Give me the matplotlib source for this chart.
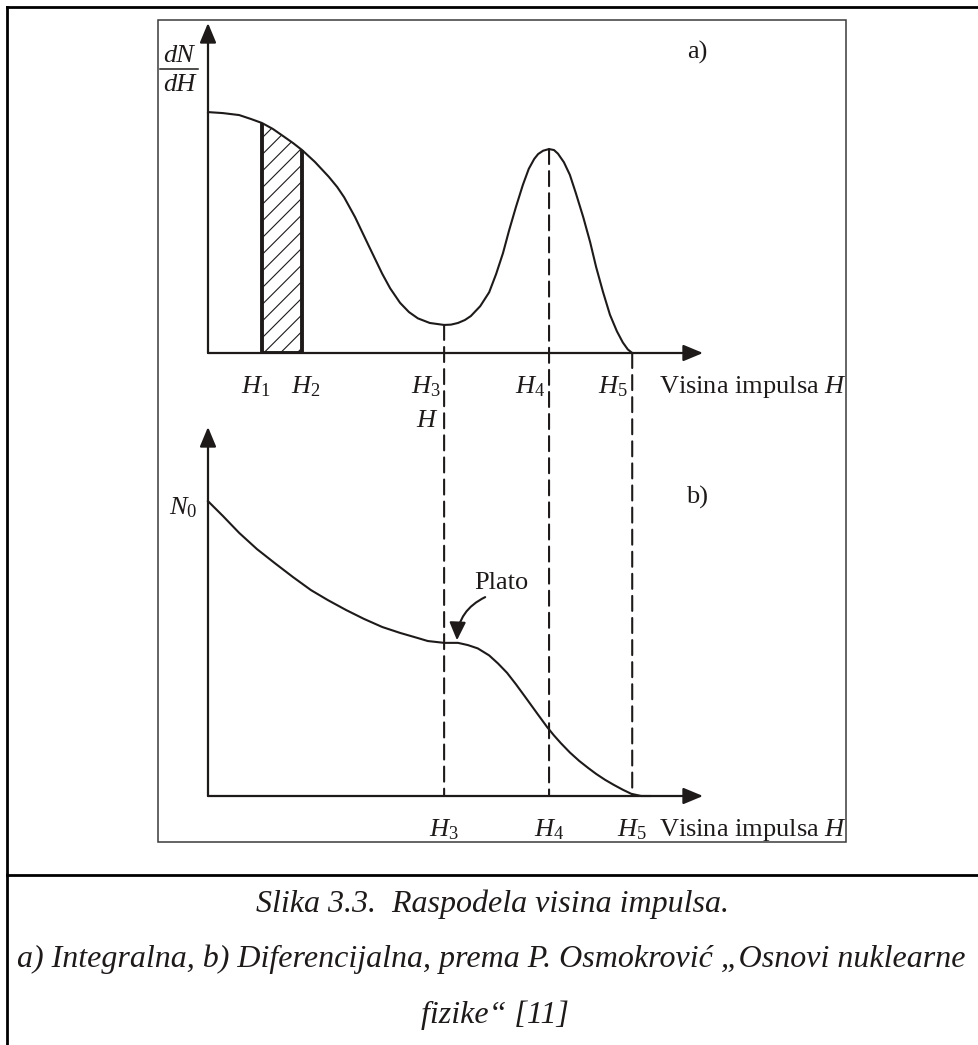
import numpy as np
import matplotlib.pyplot as plt
from matplotlib.patches import FancyArrowPatch, ConnectionPatch, Rectangle
from matplotlib.lines import Line2D

plt.rcParams['font.family'] = ['Liberation Serif', 'DejaVu Serif']
plt.rcParams['mathtext.fontset'] = 'custom'
plt.rcParams['mathtext.rm'] = 'Liberation Serif'
plt.rcParams['mathtext.it'] = 'Liberation Serif:italic'
plt.rcParams['hatch.linewidth'] = 0.8

ink = '#1e1a1a'

# pulse height positions H1..H5 (both panels share the x scale)
H_labels = ['$H_1$', '$H_2$', '$H_3$', '$H_4$', '$H_5$']
H_pos = [10.9, 19.0, 47.7, 68.9, 85.7]

# a) dN/dH spectrum
a_x = [0, 3.0, 6.3, 8.7, 10.9, 13.1, 15.4, 17.2, 19.0, 21.6, 24.4, 26.1, 27.5,
       29.7, 31.1, 32.5, 35.2, 36.8, 38.8, 40.6, 42.4, 44.8, 47.7, 49.1, 50.5,
       51.9, 53.1, 55.0, 56.8, 58.2, 59.6, 60.8, 62.2, 63.6, 64.8, 65.9, 66.7,
       67.7, 68.9, 69.9, 70.7, 71.9, 73.1, 74.3, 75.8, 77.2, 78.4, 79.8, 81.2,
       82.6, 83.8, 84.8, 85.7]
a_y = [73.0, 72.7, 72.1, 70.9, 69.7, 67.9, 65.5, 63.6, 61.5, 57.9, 53.4, 50.3, 47.2,
       41.2, 36.8, 32.4, 24.0, 19.6, 15.2, 12.4, 10.5, 9.1, 8.5, 8.6, 9.1,
       10.0, 11.2, 14.2, 18.4, 23.9, 30.3, 37.0, 44.2, 50.9, 55.8, 58.8, 60.3,
       61.3, 61.8, 61.5, 60.4, 57.8, 54.0, 48.5, 41.2, 33.6, 26.1, 18.5, 11.6,
       6.6, 3.2, 1.1, 0.0]

# b) N(H) curve with the plateau
b_x = [0, 3.0, 6.3, 9.9, 13.5, 17.2, 20.8, 24.2, 27.9, 31.5, 35.2, 38.8, 42.4,
       44.4, 47.7, 48.9, 50.5, 52.5, 54.5, 56.8, 58.6, 60.4, 62.2, 64.0, 66.7,
       68.5, 69.9, 71.3, 73.1, 75.0, 76.8, 78.4, 80.2, 82.0, 83.8, 85.5, 87.5, 89.3]
b_y = [79.9, 75.9, 71.3, 66.9, 63.1, 59.3, 55.8, 53.1, 50.4, 48.0, 45.8, 44.2, 42.8,
       42.0, 41.5, 41.5, 41.5, 40.9, 40.0, 38.1, 35.9, 33.4, 30.3, 27.0, 22.0,
       18.7, 16.4, 14.3, 11.8, 9.5, 7.6, 6.0, 4.4, 3.0, 1.7, 0.6, 0.0, 0.0]

W, Hh = 979, 1045


def fx(p):
    return p / W


def fy(p):
    return 1 - p / Hh


fig = plt.figure(figsize=(9.79, 10.45), dpi=100)

# frame of the page
fig.add_artist(Line2D([fx(7), fx(7)], [fy(7), 0], color='black', lw=2))
fig.add_artist(Line2D([fx(7), 1], [fy(7), fy(7)], color='black', lw=2))
fig.add_artist(Line2D([fx(7), 1], [fy(875), fy(875)], color='black', lw=2))
fig.add_artist(Rectangle((fx(158), fy(842)), fx(846) - fx(158), fy(20) - fy(842),
                         transform=fig.transFigure, fill=False, ec='#3a3a3a', lw=1.1))

ax_a = fig.add_axes([fx(208), fy(353), fx(703) - fx(208), (353 - 23) / Hh])
ax_b = fig.add_axes([fx(208), fy(796), fx(703) - fx(208), (796 - 427) / Hh])

arrow_kw = dict(arrowstyle='-|>,head_length=0.6,head_width=0.25', lw=1.6,
                color=ink, shrinkA=0, shrinkB=0, mutation_scale=20)
for ax in (ax_a, ax_b):
    ax.set_xlim(0, 100)
    ax.set_ylim(0, 100)
    ax.axis('off')
    ax.annotate('', xy=(1, 0), xytext=(0, 0), xycoords='axes fraction', arrowprops=arrow_kw)
    ax.annotate('', xy=(0, 1), xytext=(0, 0), xycoords='axes fraction', arrowprops=arrow_kw)

# panel a
ax_a.plot(a_x, a_y, color=ink, lw=1.5, clip_on=False, zorder=3, solid_joinstyle='round')
xs = np.array(a_x)
ys = np.array(a_y)
i1, i2 = a_x.index(H_pos[0]), a_x.index(H_pos[1])
band = (xs >= H_pos[0]) & (xs <= H_pos[1])
ax_a.fill_between(xs[band], 0, ys[band], facecolor='none', edgecolor=ink,
                  hatch='//', lw=0, zorder=2)
ax_a.vlines([H_pos[0], H_pos[1]], 0, [a_y[i1], a_y[i2]], color=ink, lw=2.8, zorder=4)
ax_a.hlines(0, H_pos[0], H_pos[1], color=ink, lw=2.8, zorder=4)

# panel b
ax_b.plot(b_x, b_y, color=ink, lw=1.5, clip_on=False, zorder=3, solid_joinstyle='round')

# dashed guides from panel a down to the axis of panel b
for k in (2, 3, 4):
    top = a_y[a_x.index(H_pos[k])]
    con = ConnectionPatch(xyA=(H_pos[k], top), coordsA=ax_a.transData,
                          xyB=(H_pos[k], 0), coordsB=ax_b.transData,
                          color=ink, lw=1.5, linestyle=(0, (7.2, 3.4)), zorder=1)
    fig.add_artist(con)

lab_kw = dict(fontsize=19, color=ink, ha='center', va='center')
a_off = [-6, 4, -18, -19, -19]
for lab, x, dx in zip(H_labels, H_pos, a_off):
    ax_a.annotate(lab, xy=(x, 0), xytext=(dx * 0.72, -24.5), textcoords='offset points',
                  **lab_kw)
for lab, x in zip(H_labels[2:], H_pos[2:]):
    ax_b.annotate(lab, xy=(x, 0), xytext=(0, -24.5), textcoords='offset points', **lab_kw)

fig.text(fx(659), fy(387), 'Visina impulsa $H$', fontsize=19, color=ink, va='center')
fig.text(fx(659), fy(830), 'Visina impulsa $H$', fontsize=19, color=ink, va='center')
fig.text(fx(427), fy(421), '$H$', fontsize=19, color=ink, ha='center', va='center')

# dN/dH written as a stacked fraction
fig.text(fx(179), fy(56), 'dN', fontsize=19, style='italic', color=ink, ha='center', va='center')
fig.text(fx(179), fy(85), 'dH', fontsize=19, style='italic', color=ink, ha='center', va='center')
fig.add_artist(Line2D([fx(160), fx(198)], [fy(69), fy(69)], color=ink, lw=1.1))

fig.text(fx(197), fy(508), '$N_0$', fontsize=19, color=ink, ha='right', va='center')
fig.text(fx(697), fy(52), 'a)', fontsize=19, color=ink, ha='center', va='center')
fig.text(fx(697), fy(497), 'b)', fontsize=19, color=ink, ha='center', va='center')

# plateau annotation
ax_b.text(59.2, 57.7, 'Plato', fontsize=19, color=ink, ha='center', va='center')
ax_b.add_patch(FancyArrowPatch((56.0, 53.9), (50.3, 42.2), connectionstyle='arc3,rad=0.3',
                               arrowstyle='-|>,head_length=0.55,head_width=0.25',
                               mutation_scale=20, lw=1.5, color=ink, clip_on=False,
                               shrinkA=0, shrinkB=0))

cap_kw = dict(fontsize=23, style='italic', color=ink, ha='center', va='center')
fig.text(fx(493), fy(904), 'Slika 3.3.  Raspodela visina impulsa.', **cap_kw)
fig.text(fx(491), fy(959),
         'a) Integralna, b) Diferencijalna, prema P. Osmokrović \u201eOsnovi nuklearne', **cap_kw)
fig.text(fx(495), fy(1015), 'fizike\u201c [11]', **cap_kw)

fig.savefig('out.png', dpi=100)
